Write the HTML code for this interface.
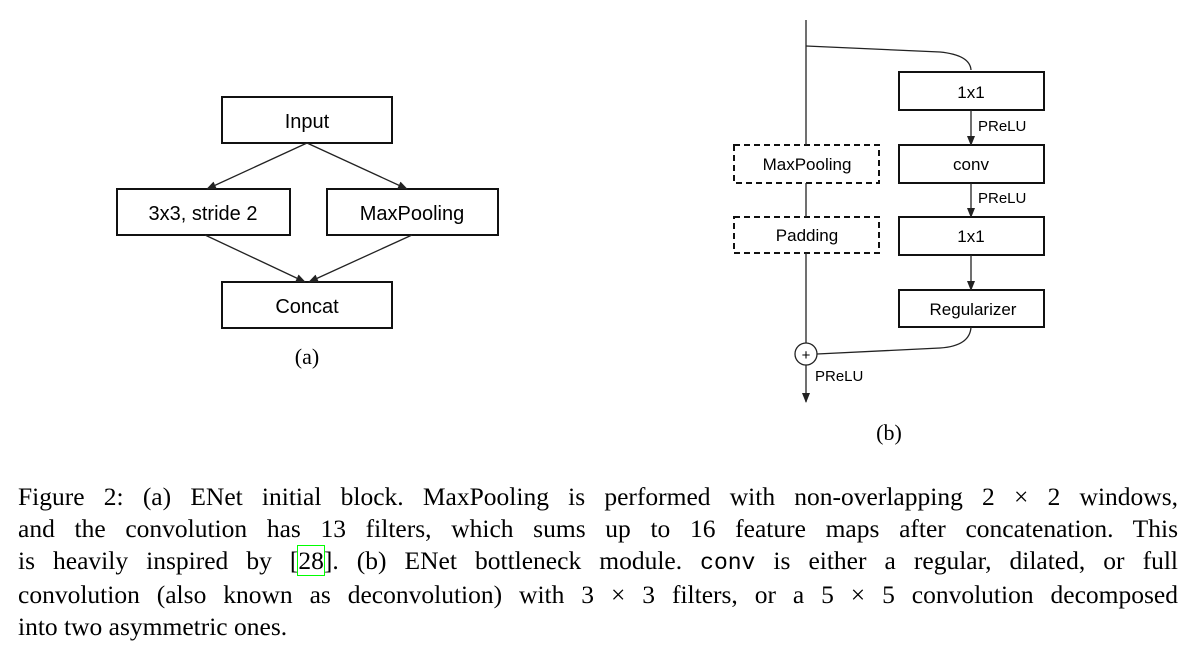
<!DOCTYPE html>
<html><head><meta charset="utf-8"><style>
body{margin:0;background:#fff;width:1191px;height:652px;overflow:hidden;position:relative}
svg{position:absolute;left:0;top:0}
.cap{position:absolute;left:18px;width:1160px;font-family:"Liberation Serif",serif;font-size:25.5px;line-height:32px;color:#000}
.cap div{text-align:justify;text-align-last:justify;white-space:nowrap}
.cap div.last{text-align-last:left}
</style></head><body>
<svg width="1191" height="652" font-family="Liberation Sans, sans-serif">
<defs><marker id="a" markerWidth="10" markerHeight="8" refX="9" refY="4" orient="auto" markerUnits="userSpaceOnUse"><path d="M0,0 L10,4 L0,8 z" fill="#222"/></marker></defs>
<g fill="none" stroke="#111" stroke-width="2">
<rect x="222" y="97" width="170" height="46"/>
<rect x="117" y="189" width="173" height="46"/>
<rect x="327" y="189" width="171" height="46"/>
<rect x="222" y="282" width="170" height="46"/>
</g>
<g stroke="#222" stroke-width="1.3" marker-end="url(#a)">
<line x1="307" y1="143" x2="207" y2="189"/>
<line x1="307" y1="143" x2="407" y2="189"/>
<line x1="205" y1="235" x2="305" y2="282"/>
<line x1="412" y1="235" x2="309" y2="282"/>
</g>
<g font-size="20" text-anchor="middle" fill="#000">
<text x="307" y="128">Input</text>
<text x="203" y="220">3x3, stride 2</text>
<text x="412" y="220">MaxPooling</text>
<text x="307" y="313">Concat</text>
</g>
<text x="307" y="364" font-family="Liberation Serif, serif" font-size="22" text-anchor="middle">(a)</text>

<g fill="none" stroke="#111" stroke-width="2">
<rect x="899" y="72" width="145" height="38"/>
<rect x="899" y="145" width="145" height="38"/>
<rect x="899" y="217" width="145" height="38"/>
<rect x="899" y="290" width="145" height="37"/>
<rect x="734" y="145" width="145" height="38" stroke-dasharray="6,4"/>
<rect x="734" y="217" width="145" height="36" stroke-dasharray="6,4"/>
</g>
<g stroke="#222" stroke-width="1.3" fill="none">
<line x1="806" y1="20" x2="806" y2="145"/>
<line x1="806" y1="183" x2="806" y2="217"/>
<line x1="806" y1="253" x2="806" y2="343"/>
<line x1="806" y1="365" x2="806" y2="402" marker-end="url(#a)"/>
<path d="M806,46 L940,52 Q970,55 971,70"/>
<path d="M971,327 Q970,346 940,348 L817,354"/>
<circle cx="806" cy="354" r="11" fill="#fff"/>
<line x1="971" y1="110" x2="971" y2="145" marker-end="url(#a)"/>
<line x1="971" y1="183" x2="971" y2="217" marker-end="url(#a)"/>
<line x1="971" y1="255" x2="971" y2="290" marker-end="url(#a)"/>
</g>
<text x="806" y="360" font-size="15" text-anchor="middle">+</text>
<g font-size="17" text-anchor="middle" fill="#000">
<text x="971" y="98">1x1</text>
<text x="971" y="170">conv</text>
<text x="971" y="242">1x1</text>
<text x="973" y="315">Regularizer</text>
<text x="807" y="170">MaxPooling</text>
<text x="807" y="241">Padding</text>
</g>
<g font-size="15" fill="#000">
<text x="978" y="131">PReLU</text>
<text x="978" y="203">PReLU</text>
<text x="815" y="381">PReLU</text>
</g>
<text x="889" y="440" font-family="Liberation Serif, serif" font-size="22" text-anchor="middle">(b)</text>
</svg>
<div class="cap" style="top:481px">
<div>Figure 2: (a) ENet initial block. MaxPooling is performed with non-overlapping 2 × 2 windows,</div>
<div>and the convolution has 13 filters, which sums up to 16 feature maps after concatenation. This</div>
<div>is heavily inspired by [<span style="outline:1px solid #0f0">28</span>]. (b) ENet bottleneck module. <span style="font-family:'Liberation Mono',monospace;font-size:23px">conv</span> is either a regular, dilated, or full</div>
<div>convolution (also known as deconvolution) with 3 × 3 filters, or a 5 × 5 convolution decomposed</div>
<div class="last">into two asymmetric ones.</div>
</div>
</body></html>
